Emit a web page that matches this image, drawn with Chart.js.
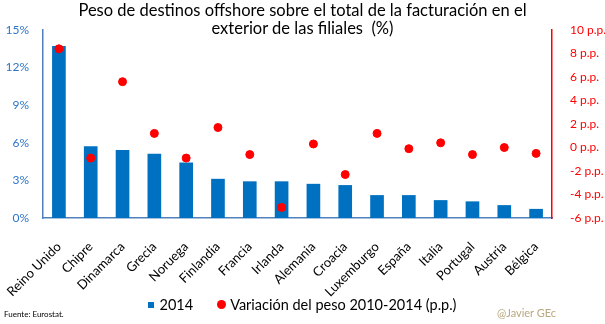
<!DOCTYPE html>
<html>
<head>
<meta charset="utf-8">
<script src="https://cdn.jsdelivr.net/npm/chart.js@4.4.1/dist/chart.umd.min.js"></script>
<style>
  html, body { margin: 0; padding: 0; background: #fff; }
  #wrap { position: relative; width: 605px; height: 324px; font-family: Lato, "Open Sans", sans-serif; }
  #titulo { position: absolute; left: 0; top: 2px; width: 605px; text-align: center; font-size: 16.5px; line-height: 17.5px; color: #000; }
  #leyenda { position: absolute; left: 0; top: 296px; width: 605px; display: flex; justify-content: center; align-items: center; font-size: 14.5px; line-height: 17px; color: #000; white-space: nowrap; }
  #leyenda .item { display: flex; align-items: center; }
  #leyenda .item + .item { margin-left: 24px; }
  #leyenda .marca { display: inline-block; margin-right: 4px; }
  #fuente { position: absolute; left: 4px; top: 309px; font-size: 8px; color: #000; }
  #firma { position: absolute; left: 497px; top: 306px; font-size: 11px; color: #b9a77e; }
  canvas { position: absolute; left: 0; top: 0; }
</style>
</head>
<body>
<div id="wrap">
  <canvas id="grafico" width="605" height="324"></canvas>
  <div id="titulo">Peso de destinos offshore sobre el total de la facturación en el<br>exterior de las filiales&nbsp; (%)</div>
  <div id="leyenda"></div>
  <div id="fuente">Fuente: Eurostat.</div>
  <div id="firma">@Javier GEc</div>
</div>
<script>
// países ordenados por peso en 2014
const paises = ["Reino Unido", "Chipre", "Dinamarca", "Grecia", "Noruega", "Finlandia", "Francia", "Irlanda",
  "Alemania", "Croacia", "Luxemburgo", "España", "Italia", "Portugal", "Austria", "Bélgica"];

// peso en 2014 (%)
const peso2014 = [13.7, 5.7, 5.4, 5.1, 4.4, 3.1, 2.9, 2.9, 2.7, 2.6, 1.8, 1.8, 1.4, 1.3, 1.0, 0.7];

// variación del peso 2010-2014 (p.p.)
const variacion = [8.4, -0.9, 5.6, 1.2, -0.9, 1.7, -0.6, -5.1, 0.3, -2.3, 1.2, -0.1, 0.4, -0.6, 0.0, -0.5];

const AZUL = "#0070c0";
const ROJO = "#ff0000";
const fuente = "Lato, 'Open Sans', sans-serif";

const grafico = new Chart(document.getElementById("grafico"), {
  data: {
    labels: paises,
    datasets: [
      {
        type: "line",
        label: "Variación del peso 2010-2014 (p.p.)",
        data: variacion,
        yAxisID: "y1",
        showLine: false,
        pointRadius: 4,
        pointHoverRadius: 4,
        borderWidth: 1,
        pointBackgroundColor: ROJO,
        pointBorderColor: ROJO,
        backgroundColor: ROJO,
        borderColor: ROJO,
        order: 0
      },
      {
        type: "bar",
        label: "2014",
        data: peso2014,
        yAxisID: "y",
        backgroundColor: AZUL,
        borderWidth: 0,
        barThickness: 13,
        order: 1
      }
    ]
  },
  options: {
    responsive: false,
    animation: false,
    layout: { padding: { top: 30, left: 0, right: 0, bottom: 0 } },
    plugins: {
      tooltip: { enabled: false },
      legend: { display: false }
    },
    scales: {
      x: {
        grid: { display: false },
        border: { color: "#4f81bd", width: 1.5 },
        ticks: {
          color: "#000",
          font: { family: fuente, size: 13 },
          minRotation: 45,
          maxRotation: 45,
          autoSkip: false,
          padding: 13
        },
        // las etiquetas giradas no deben desplazar el área del gráfico
        afterFit: s => { s.height = 106; s.paddingLeft = 0; s.paddingRight = 0; }
      },
      y: {
        position: "left",
        min: 0,
        max: 15,
        grid: { display: false },
        border: { color: "#4f81bd", width: 1.5 },
        ticks: {
          stepSize: 3,
          color: "#2e75c8",
          font: { family: fuente, size: 12 },
          padding: 6,
          callback: v => v + "%"
        },
        afterFit: s => { s.width = 43; }
      },
      y1: {
        position: "right",
        min: -6,
        max: 10,
        grid: { display: false },
        border: { color: ROJO, width: 1.5 },
        ticks: {
          stepSize: 2,
          color: ROJO,
          font: { family: fuente, size: 12 },
          padding: 10,
          callback: v => v + " p.p."
        },
        afterFit: s => { s.width = 53; }
      }
    }
  }
});

// leyenda en HTML: barra primero, luego los puntos
const leyenda = document.getElementById("leyenda");
grafico.data.datasets.slice().reverse().forEach(ds => {
  const item = document.createElement("span");
  item.className = "item";
  const marca = document.createElement("span");
  marca.className = "marca";
  if (ds.type === "bar") {
    marca.style.cssText = "width:6px;height:6px;margin-right:5px;background:" + ds.backgroundColor;
  } else {
    marca.style.cssText = "width:9px;height:9px;border-radius:50%;background:" + ds.pointBackgroundColor;
  }
  item.appendChild(marca);
  item.appendChild(document.createTextNode(ds.label));
  leyenda.appendChild(item);
});
</script>
</body>
</html>
